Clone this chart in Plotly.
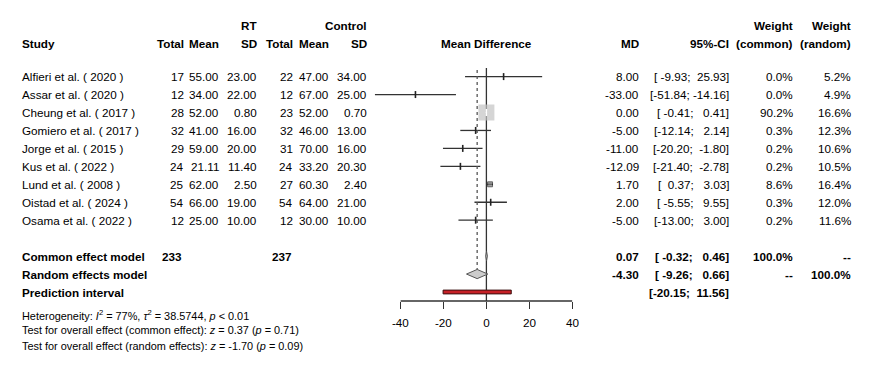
import math
import plotly.graph_objects as go

# ---------------- data ----------------
studies = ["Alfieri et al. ( 2020 )", "Assar et al. ( 2020 )", "Cheung et al. ( 2017 )",
           "Gomiero et al. ( 2017 )", "Jorge et al. ( 2015 )", "Kus et al. ( 2022 )",
           "Lund et al. ( 2008 )", "Oistad et al. ( 2024 )", "Osama et al. ( 2022 )"]
rt_total = [17, 12, 28, 32, 29, 24, 25, 54, 12]
rt_mean = [55.00, 34.00, 52.00, 41.00, 59.00, 21.11, 62.00, 66.00, 25.00]
rt_sd = [23.00, 22.00, 0.80, 16.00, 20.00, 11.40, 2.50, 19.00, 10.00]
ctl_total = [22, 12, 23, 32, 31, 24, 27, 54, 12]
ctl_mean = [47.00, 67.00, 52.00, 46.00, 70.00, 33.20, 60.30, 64.00, 30.00]
ctl_sd = [34.00, 25.00, 0.70, 13.00, 16.00, 20.30, 2.40, 21.00, 10.00]
md = [8.00, -33.00, 0.00, -5.00, -11.00, -12.09, 1.70, 2.00, -5.00]
ci_lo = [-9.93, -51.84, -0.41, -12.14, -20.20, -21.40, 0.37, -5.55, -13.00]
ci_hi = [25.93, -14.16, 0.41, 2.14, -1.80, -2.78, 3.03, 9.55, 3.00]
w_common = [0.0, 0.0, 90.2, 0.3, 0.2, 0.2, 8.6, 0.3, 0.2]
w_random = [5.2, 4.9, 16.6, 12.3, 10.6, 10.5, 16.4, 12.0, 11.6]

summary_labels = ["Common effect model", "Random effects model", "Prediction interval"]
summary_md = [0.07, -4.30, None]
summary_lo = [-0.32, -9.26, -20.15]
summary_hi = [0.46, 0.66, 11.56]
summary_w_common = ["100.0%", "--", ""]
summary_w_random = ["--", "100.0%", ""]
total_rt = 233
total_ctl = 237

footer_lines = [
    "Heterogeneity: <i>I</i><sup>2</sup> = 77%, <i>τ</i><sup>2</sup> = 38.5744, <i>p</i> &lt; 0.01",
    "Test for overall effect (common effect): <i>z</i> = 0.37 (<i>p</i> = 0.71)",
    "Test for overall effect (random effects): <i>z</i> = -1.70 (<i>p</i> = 0.09)",
]
axis_ticks = [-40, -20, 0, 20, 40]

# ---------------- geometry ----------------
W, H = 886, 378
X0 = 486.4          # pixel of value 0
SC = 2.15           # pixels per unit
ROW0, STEP = 76.6, 17.95
rows = [ROW0 + STEP * i for i in range(len(studies))]
sum_rows = [rows[-1] + STEP * (k + 2) for k in range(3)]
AXIS_Y = 301.0
LINE_TOP = 68.0

FONT = "Liberation Sans, Arial, sans-serif"
FS = 11.7
DARK = "#333333"

fig = go.Figure()

# CI lines
cx, cy = [], []
for lo, hi, y in zip(ci_lo, ci_hi, rows):
    cx += [lo, hi, None]
    cy += [y, y, None]
fig.add_trace(go.Scatter(x=cx, y=cy, mode="lines", line=dict(color=DARK, width=1.3),
                         hoverinfo="skip"))

# reference line at 0 and random-effects dotted line
fig.add_trace(go.Scatter(x=[0, 0], y=[LINE_TOP, AXIS_Y], mode="lines",
                         line=dict(color=DARK, width=1.3), hoverinfo="skip"))
fig.add_trace(go.Scatter(x=[summary_md[1], summary_md[1]], y=[LINE_TOP + 2, sum_rows[1] - 4.5],
                         mode="lines", line=dict(color="#555555", width=1.3, dash="dot"),
                         hoverinfo="skip"))

# squares sized by common-effect weight
wmax = max(w_common)
sizes = [16 * math.sqrt(w / wmax) for w in w_common]
big = [i for i, s in enumerate(sizes) if s > 3]
small = [i for i, s in enumerate(sizes) if s <= 3]
fig.add_trace(go.Scatter(x=[md[i] for i in small], y=[rows[i] for i in small], mode="markers",
                         marker=dict(symbol="line-ns", size=5, line=dict(color="#222222", width=1.6)),
                         hoverinfo="skip"))
fig.add_trace(go.Scatter(x=[md[i] for i in big], y=[rows[i] for i in big], mode="markers",
                         marker=dict(symbol="square", size=[sizes[i] for i in big],
                                     color=["#c4c4c4" if sizes[i] > 8 else "#777777" for i in big],
                                     line=dict(color=["rgba(0,0,0,0)" if sizes[i] > 8 else "#222222" for i in big],
                                               width=1)),
                         hoverinfo="skip"))
# CI inside large square drawn in white
ix, iy = [], []
for i in big:
    if sizes[i] > 8:
        ix += [ci_lo[i], ci_hi[i], None]
        iy += [rows[i], rows[i], None]
fig.add_trace(go.Scatter(x=ix, y=iy, mode="lines", line=dict(color="white", width=1.3),
                         hoverinfo="skip"))
fig.add_trace(go.Scatter(x=[md[i] for i in big if sizes[i] > 8], y=[rows[i] for i in big if sizes[i] > 8],
                         mode="markers",
                         marker=dict(symbol="line-ns", size=5, line=dict(color="white", width=1.5)),
                         hoverinfo="skip"))

# diamonds
for k in range(2):
    y = sum_rows[k]
    fig.add_trace(go.Scatter(x=[summary_lo[k], summary_md[k], summary_hi[k], summary_md[k], summary_lo[k]],
                             y=[y, y - 4.6, y, y + 4.6, y], mode="lines", fill="toself",
                             fillcolor="#cccccc", line=dict(color="#555555", width=1),
                             hoverinfo="skip"))
# prediction interval bar
yp = sum_rows[2]
fig.add_trace(go.Scatter(x=[summary_lo[2], summary_hi[2], summary_hi[2], summary_lo[2], summary_lo[2]],
                         y=[yp - 1.9, yp - 1.9, yp + 1.9, yp + 1.9, yp - 1.9], mode="lines",
                         fill="toself", fillcolor="#c62026", line=dict(color="#3a1010", width=1),
                         hoverinfo="skip"))

# axis line on the tick axis
fig.add_trace(go.Scatter(x=[axis_ticks[0], axis_ticks[-1]], y=[AXIS_Y, AXIS_Y], xaxis="x2", yaxis="y",
                         mode="lines", line=dict(color=DARK, width=1.3), hoverinfo="skip"))

# ---------------- text ----------------
ann = []


def txt(px, py, s, anchor="right", bold=False, size=FS):
    if bold:
        s = "<b>" + s + "</b>"
    ann.append(dict(x=px / W, y=py, xref="paper", yref="y", text=s, showarrow=False,
                    xanchor=anchor, yanchor="middle", borderpad=0, borderwidth=0,
                    font=dict(family=FONT, size=size, color="black")))


NB = "\u00a0"


def fmt_ci(lo, hi):
    return ("[" + f"{lo:.2f}".rjust(6) + "; " + f"{hi:.2f}".rjust(6) + "]").replace(" ", NB)


# column right edges
C_TOT1, C_MEAN1, C_SD1, C_TOT2, C_MEAN2, C_SD2 = 183.5, 218.5, 256.5, 293, 328.5, 366.5
C_MD, C_CI, C_WC, C_WR = 639, 728.5, 792.5, 851
C_STUDY = 21.5
HY1, HY2 = 25, 43.3

# headers
txt(C_SD1, HY1, "RT", bold=True)
txt(C_SD2, HY1, "Control", bold=True)
txt(C_STUDY, HY2, "Study", anchor="left", bold=True)
for px, s in [(C_TOT1, "Total"), (C_MEAN1, "Mean"), (C_SD1, "SD"), (C_TOT2, "Total"),
              (C_MEAN2, "Mean"), (C_SD2, "SD"), (C_MD, "MD"), (C_CI, "95%-CI"),
              (C_WC, "(common)"), (C_WR, "(random)")]:
    txt(px, HY2, s, bold=True)
txt(C_WC, HY1, "Weight", bold=True)
txt(C_WR, HY1, "Weight", bold=True)
txt(X0, HY2, "Mean Difference", anchor="center", bold=True)

# study rows
for i, y in enumerate(rows):
    txt(C_STUDY, y, studies[i], anchor="left")
    txt(C_TOT1, y, str(rt_total[i]))
    txt(C_MEAN1, y, f"{rt_mean[i]:.2f}")
    txt(C_SD1, y, f"{rt_sd[i]:.2f}")
    txt(C_TOT2, y, str(ctl_total[i]))
    txt(C_MEAN2, y, f"{ctl_mean[i]:.2f}")
    txt(C_SD2, y, f"{ctl_sd[i]:.2f}")
    txt(C_MD, y, f"{md[i]:.2f}")
    txt(C_CI, y, fmt_ci(ci_lo[i], ci_hi[i]))
    txt(C_WC, y, f"{w_common[i]:.1f}%")
    txt(C_WR, y, f"{w_random[i]:.1f}%")

# summary rows
for k, y in enumerate(sum_rows):
    txt(C_STUDY, y, summary_labels[k], anchor="left", bold=True)
    if summary_md[k] is not None:
        txt(C_MD, y, f"{summary_md[k]:.2f}", bold=True)
    txt(C_CI, y, fmt_ci(summary_lo[k], summary_hi[k]), bold=True)
    if summary_w_common[k]:
        txt(C_WC, y, summary_w_common[k], bold=True)
    if summary_w_random[k]:
        txt(C_WR, y, summary_w_random[k], bold=True)
txt(C_TOT1 - 1.5, sum_rows[0], str(total_rt), bold=True)
txt(C_TOT2 - 1.5, sum_rows[0], str(total_ctl), bold=True)

# footer
for j, s in enumerate(footer_lines):
    txt(C_STUDY, 314.5 + 15.8 * j, s, anchor="left", size=10.9)

fig.update_layout(
    width=W, height=H, autosize=False,
    margin=dict(l=0, r=0, t=0, b=0, pad=0, autoexpand=False),
    paper_bgcolor="white", plot_bgcolor="rgba(0,0,0,0)", showlegend=False,
    font=dict(family=FONT, size=FS, color="black"),
    xaxis=dict(domain=[0, 1], range=[-X0 / SC, (W - X0) / SC], visible=False, fixedrange=True),
    yaxis=dict(domain=[0, 1], range=[H, 0], visible=False, fixedrange=True),
    xaxis2=dict(domain=[(X0 - 40 * SC) / W, (X0 + 40 * SC) / W], range=[-40, 40],
                anchor="free", position=1 - AXIS_Y / H, showline=False, showgrid=False,
                zeroline=False, ticks="outside", ticklen=7, tickwidth=1.3, tickcolor=DARK,
                tickvals=axis_ticks, ticktext=[str(t) for t in axis_ticks],
                tickfont=dict(family=FONT, size=FS, color="black"), ticklabelstandoff=4,
                fixedrange=True),
    annotations=ann,
)

fig.write_html("out.html", config={"displayModeBar": False, "responsive": False},
               post_script="document.body.style.margin='0';document.body.style.padding='0';"
                           "document.body.style.overflow='hidden';")
